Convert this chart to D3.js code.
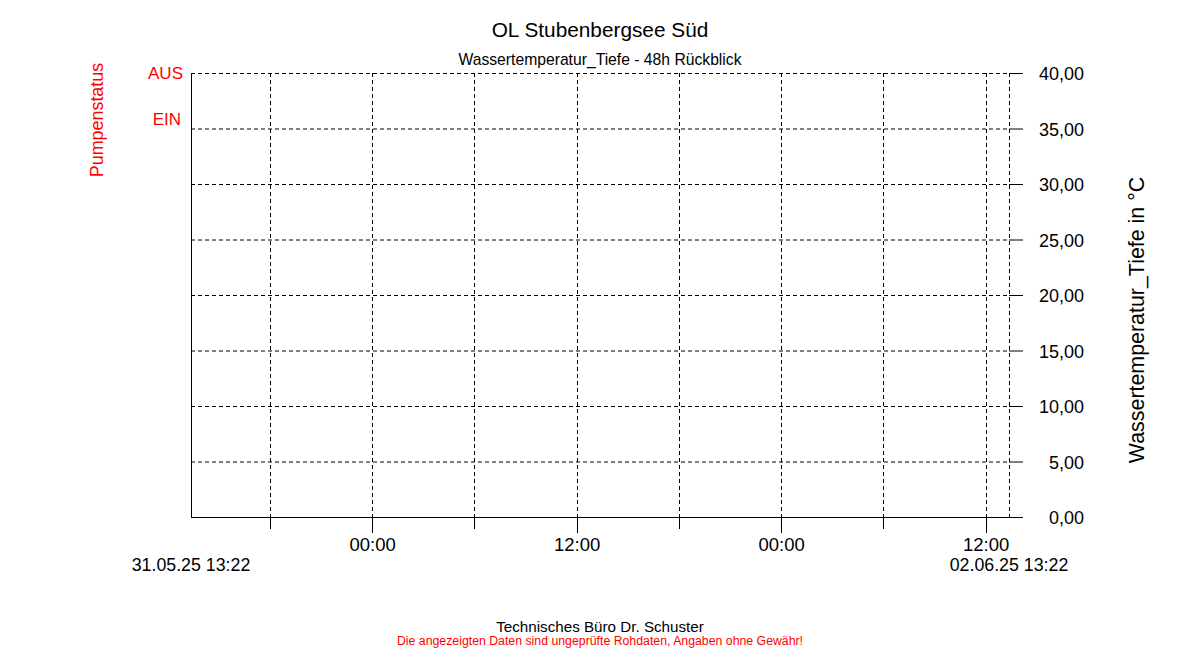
<!DOCTYPE html>
<html>
<head>
<meta charset="utf-8">
<script src="https://cdn.jsdelivr.net/npm/d3@7"></script>
<style>
  html, body { margin: 0; padding: 0; background: #fff; }
  svg { display: block; font-family: "Liberation Sans", Arial, sans-serif; }
</style>
</head>
<body>
<svg id="chart" width="1200" height="650"></svg>
<script>
// ---- data ----
const title = "OL Stubenbergsee Süd";
const subtitle = "Wassertemperatur_Tiefe - 48h Rückblick";
const startLabel = "31.05.25 13:22";
const endLabel = "02.06.25 13:22";
const timeStart = [2025, 4, 31, 13, 22];
const timeEnd = [2025, 5, 2, 13, 22];
const tempTicks = [0, 5, 10, 15, 20, 25, 30, 35, 40];
const pumpCategories = ["AUS", "EIN"];
const tempSeries = [];   // no measurements shown in the 48h window
const pumpSeries = [];   // no pump status records shown
const yTitle = "Wassertemperatur_Tiefe in °C";
const pumpTitle = "Pumpenstatus";
const footer1 = "Technisches Büro Dr. Schuster";
const footer2 = "Die angezeigten Daten sind ungeprüfte Rohdaten, Angaben ohne Gewähr!";

// ---- layout ----
const L = 191, R = 1009, T = 73, B = 517;
const svg = d3.select("#chart");

const x = d3.scaleTime()
  .domain([new Date(...timeStart), new Date(...timeEnd)])
  .range([L, R]);
const y = d3.scaleLinear().domain([0, 40]).range([B, T]);
const yPump = d3.scalePoint().domain(pumpCategories).range([T, 119]);

const dash = "4,3";
const hours = x.ticks(d3.timeHour.every(6));

// horizontal grid
svg.append("g").selectAll("line")
  .data(tempTicks.filter(d => d > 0))
  .join("line")
  .attr("x1", L).attr("x2", R)
  .attr("y1", d => y(d) + 0.5).attr("y2", d => y(d) + 0.5)
  .attr("stroke", "#000").attr("stroke-dasharray", dash);

// vertical grid
svg.append("g").selectAll("line")
  .data(hours.concat([x.domain()[1]]))
  .join("line")
  .attr("x1", d => Math.round(x(d)) + 0.5).attr("x2", d => Math.round(x(d)) + 0.5)
  .attr("y1", T).attr("y2", B)
  .attr("stroke", "#000").attr("stroke-dasharray", dash);

// left axis line
svg.append("line").attr("x1", L + 0.5).attr("x2", L + 0.5).attr("y1", T).attr("y2", B)
  .attr("stroke", "#000");
// bottom axis line
svg.append("line").attr("x1", L).attr("x2", 1023).attr("y1", B + 0.5).attr("y2", B + 0.5)
  .attr("stroke", "#000");

// bottom ticks
const isMajor = d => d.getHours() % 12 === 0;
svg.append("g").selectAll("line")
  .data(hours)
  .join("line")
  .attr("x1", d => Math.round(x(d)) + 0.5).attr("x2", d => Math.round(x(d)) + 0.5)
  .attr("y1", B).attr("y2", d => isMajor(d) ? 533 : 529)
  .attr("stroke", "#000");

svg.append("g").selectAll("text")
  .data(hours.filter(isMajor))
  .join("text")
  .attr("x", d => x(d) + 0.5).attr("y", 551)
  .attr("text-anchor", "middle")
  .attr("font-size", 18.5)
  .text(d3.timeFormat("%H:%M"));

svg.append("text").attr("x", 191).attr("y", 571).attr("text-anchor", "middle")
  .attr("font-size", 17.8).text(startLabel);
svg.append("text").attr("x", 1009).attr("y", 571).attr("text-anchor", "middle")
  .attr("font-size", 17.8).text(endLabel);

// right ticks & labels
const fmt = d => d3.format(".2f")(d).replace(".", ",");
svg.append("g").selectAll("line")
  .data(tempTicks)
  .join("line")
  .attr("x1", R).attr("x2", 1023)
  .attr("y1", d => y(d) + 0.5).attr("y2", d => y(d) + 0.5)
  .attr("stroke", "#000");
svg.append("g").selectAll("text")
  .data(tempTicks)
  .join("text")
  .attr("x", 1084).attr("y", d => y(d) + 7)
  .attr("text-anchor", "end")
  .attr("font-size", 18)
  .text(fmt);

// pump axis labels
svg.append("g").selectAll("text")
  .data(pumpCategories)
  .join("text")
  .attr("x", d => d === "AUS" ? 183 : 181).attr("y", d => yPump(d) + 6)
  .attr("text-anchor", "end")
  .attr("font-size", 17)
  .attr("fill", "#ff0000")
  .text(d => d);

// data (empty)
svg.append("path").datum(tempSeries)
  .attr("fill", "none").attr("stroke", "#0000ff")
  .attr("d", d3.line().x(d => x(d.t)).y(d => y(d.v)));

// titles
svg.append("text").attr("x", 600).attr("y", 37).attr("text-anchor", "middle")
  .attr("font-size", 20.8).text(title);
svg.append("text").attr("x", 600).attr("y", 65).attr("text-anchor", "middle")
  .attr("font-size", 15.7).text(subtitle);

svg.append("text")
  .attr("transform", "translate(1144,320) rotate(-90)")
  .attr("text-anchor", "middle").attr("font-size", 21.4).text(yTitle);

svg.append("text")
  .attr("transform", "translate(103,120) rotate(-90)")
  .attr("text-anchor", "middle").attr("font-size", 17.9).attr("fill", "#ff0000").text(pumpTitle);

svg.append("text").attr("x", 600).attr("y", 632).attr("text-anchor", "middle")
  .attr("font-size", 15.2).text(footer1);
svg.append("text").attr("x", 600).attr("y", 645).attr("text-anchor", "middle")
  .attr("font-size", 12.3).attr("fill", "#ff0000").text(footer2);
</script>
</body>
</html>
